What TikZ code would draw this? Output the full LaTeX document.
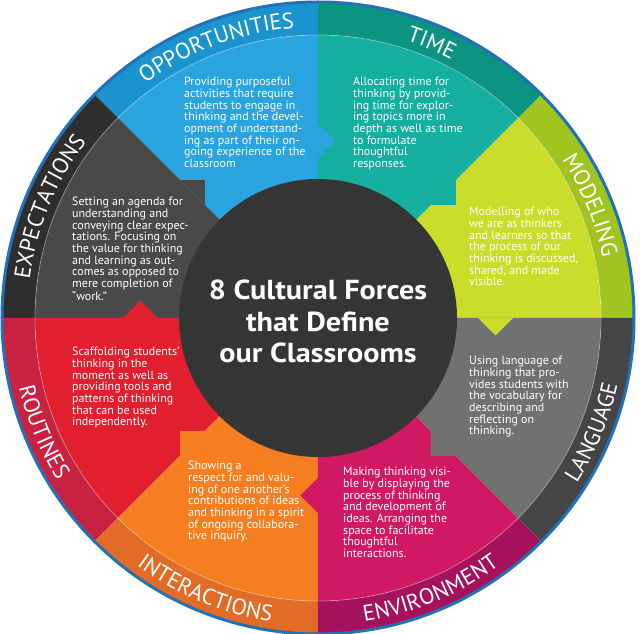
\documentclass[tikz,border=0pt]{standalone}
\usepackage{fontspec}
\setmainfont{PT Sans}
\usetikzlibrary{decorations.text,calc}
\definecolor{timeI}{HTML}{15AFA0}\definecolor{timeB}{HTML}{0C9483}
\definecolor{oppI}{HTML}{29A4DF}\definecolor{oppB}{HTML}{1A93CF}
\definecolor{expI}{HTML}{494949}\definecolor{expB}{HTML}{2E2E2E}
\definecolor{rouI}{HTML}{E11F2E}\definecolor{rouB}{HTML}{C92241}
\definecolor{intI}{HTML}{F57E20}\definecolor{intB}{HTML}{E26B27}
\definecolor{envI}{HTML}{D11863}\definecolor{envB}{HTML}{A5115A}
\definecolor{lanI}{HTML}{717171}\definecolor{lanB}{HTML}{454545}
\definecolor{modI}{HTML}{CADD2B}\definecolor{modB}{HTML}{A0C420}
\definecolor{hub}{HTML}{353535}
\definecolor{rim}{HTML}{2270B5}
\newcommand\lblfont{\fontsize{22.5}{22.5}\selectfont}
\begin{document}
\begin{tikzpicture}[x=1pt,y=1pt,
  body/.style={anchor=north west,inner sep=0pt,align=left,text=white,font=\fontsize{12}{11.7}\selectfont},
  ttl/.style={anchor=base,inner sep=0pt,text=white,font=\bfseries\fontsize{27.5}{27.5}\selectfont\addfontfeature{FakeStretch=1.1}},
  bandlabel/.style={decorate,decoration={text along path,text align=center,text color=white,text={|\lblfont|#1}}},
]
\useasboundingbox (-318,-316) rectangle (322,318);
% inner wedges and outer band
\foreach \a/\ci/\cb in {0/modI/modB,45/timeI/timeB,90/oppI/oppB,135/expI/expB,180/rouI/rouB,225/intI/intB,270/envI/envB,315/lanI/lanB}{
  \fill[\ci] (0,0) -- (\a:283) arc[start angle=\a,end angle={\a+45},radius=283] -- cycle;
  \fill[\cb] (\a:283) -- (\a:315) arc[start angle=\a,end angle={\a+45},radius=315] -- ({\a+45}:283) arc[start angle={\a+45},end angle=\a,radius=283] -- cycle;
}
% arrow heads pointing clockwise into the next sector
\foreach \a/\ci in {0/modI,45/timeI,90/oppI,135/expI,180/rouI,225/intI,270/envI,315/lanI}{
  \fill[\ci] (\a:160) -- ($(\a:177.5)+({\a-90}:17.5)$) -- (\a:195) -- cycle;
}
\draw[white,opacity=.35,line width=.8] (0,0) circle[radius=283];
\fill[hub] (0,0) circle[radius=139];
\draw[rim,line width=3] (0,0) circle[radius=316];
% band labels
\path[bandlabel=OPPORTUNITIES] (133:291) arc[start angle=133,end angle=88,radius=291];
\path[bandlabel=TIME] (90:291) arc[start angle=90,end angle=45,radius=291];
\path[bandlabel=MODELING] (45:291) arc[start angle=45,end angle=0,radius=291];
\path[bandlabel=EXPECTATIONS] (180:291) arc[start angle=180,end angle=135,radius=291];
\path[bandlabel=ROUTINES] (180:307) arc[start angle=180,end angle=225,radius=307];
\path[bandlabel=INTERACTIONS] (225:307) arc[start angle=225,end angle=270,radius=307];
\path[bandlabel=ENVIRONMENT] (270:307) arc[start angle=270,end angle=315,radius=307];
\path[bandlabel=LANGUAGE] (315:307) arc[start angle=315,end angle=360,radius=307];
% title
\node[ttl] (t1) at (0,18) {8 Cultural Forces};
\node[ttl] (t2) at (0,-14) {that Define};
\node[ttl] (t3) at (0,-45) {our Classrooms};
% descriptions
\node[body] (opp) at (-134,241) {Providing purposeful\\activities that require\\students to engage in\\thinking and the devel-\\opment of understand-\\ing as part of their on-\\going experience of the\\classroom};
\node[body] (time) at (35,241) {Allocating time for\\thinking by provid-\\ing time for explor-\\ing topics more in\\depth as well as time\\to formulate\\thoughtful\\responses.};
\node[body] (mod) at (151,111) {Modelling of who\\we are as thinkers\\and learners so that\\the process of our\\thinking is discussed,\\shared, and made\\visible.};
\node[body] (lan) at (151,-38) {Using language of\\thinking that pro-\\vides students with\\the vocabulary for\\describing and\\reflecting on\\thinking.};
\node[body] (env) at (25,-149) {Making thinking visi-\\ble by displaying the\\process of thinking\\and development of\\ideas. Arranging the\\space to facilitate\\thoughtful\\interactions.};
\node[body] (int) at (-130,-143) {Showing a\\respect for and valu-\\ing of one another’s\\contributions of ideas\\and thinking in a spirit\\of ongoing collabora-\\tive inquiry.};
\node[body] (rou) at (-246,-29) {Scaffolding students’\\thinking in the\\moment as well as\\providing tools and\\patterns of thinking\\that can be used\\independently.};
\node[body] (exp) at (-246,121) {Setting an agenda for\\understanding and\\conveying clear expec-\\tations. Focusing on\\the value for thinking\\and learning as out-\\comes as opposed to\\mere completion of\\“work.”};
\end{tikzpicture}
\end{document}
